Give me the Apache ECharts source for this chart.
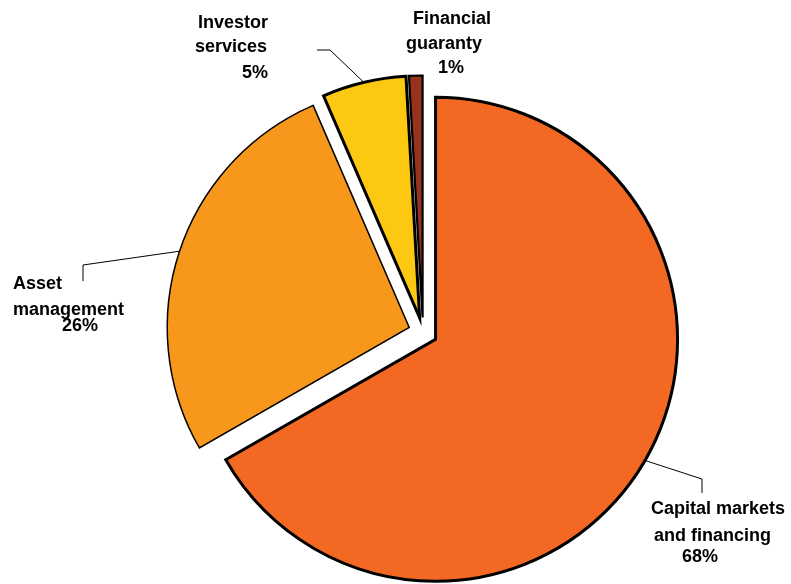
<!DOCTYPE html>
<html><head><meta charset="utf-8">
<script src="https://cdn.jsdelivr.net/npm/echarts@6/dist/echarts.min.js"></script>
<style>html,body{margin:0;padding:0;background:#fff}#c{width:791px;height:584px}</style>
</head><body><div id="c"></div>
<script>
// ---- data ----
const categories = ['Capital markets and financing', 'Asset management', 'Investor services', 'Financial guaranty'];
const shares = [66.7, 26.8, 5.6, 0.9];           // slice sizes as drawn
const percentLabels = ['68%', '26%', '5%', '1%']; // printed percentages
const nameLines = [['Capital markets', 'and financing'], ['Asset', 'management'], ['Investor', 'services'], ['Financial', 'guaranty']];

// ---- style / layout ----
const colors = ['#F36923', '#F7981D', '#FCC812', '#96321E'];
const borderWidths = [3, 1.5, 3, 2.2];
const pieCenter = [423, 332];
const pieRadius = 242;
const explode = 14.5;
const FONT = '"Liberation Sans", Arial, Helvetica, sans-serif';

const labelBoxes = [
  {x: 651, y: 496, align: 'left', pads: [0, 3, 31], lh: [26, 29, 13], line: [[702, 479], [702, 493]]},
  {x: 13, y: 271, align: 'left', pads: [0, 0, 49], lh: [26, 26, 6], line: [[83, 265], [83, 281]]},
  {x: 268, y: 11.5, align: 'right', pads: [0, 1, 0], lh: [24, 24, 28], line: [[330, 50], [317, 50]]},
  {x: 406, y: 6.5, align: 'left', pads: [7, 0, 32], lh: [25, 25, 23], line: null}
];

const total = shares.reduce((a, b) => a + b, 0);
let cum = 0;
const midAngles = shares.map(v => { const m = (cum + v / 2) / total * 2 * Math.PI; cum += v; return m; });

function richFor(i) {
  const b = labelBoxes[i];
  const r = {};
  for (let k = 0; k < 3; k++) {
    const pad = b.align === 'right' ? [0, b.pads[k], 0, 0] : [0, 0, 0, b.pads[k]];
    r['l' + k] = {fontFamily: FONT, fontWeight: 'bold', fontSize: 18, color: '#000', lineHeight: b.lh[k], align: b.align, padding: pad};
  }
  return r;
}

const series = shares.map((_, i) => {
  const a = midAngles[i];
  const center = [pieCenter[0] + explode * Math.sin(a), pieCenter[1] - explode * Math.cos(a)];
  const b = labelBoxes[i];
  return {
    type: 'pie',
    name: categories[i],
    center: center,
    radius: pieRadius,
    startAngle: 90,
    clockwise: true,
    avoidLabelOverlap: false,
    silent: true,
    emphasis: {disabled: true},
    animation: false,
    data: shares.map((v, j) => ({
      name: categories[j],
      value: v,
      itemStyle: j === i
        ? {color: colors[j], borderColor: '#000', borderWidth: borderWidths[j], borderJoin: 'miter'}
        : {color: 'rgba(0,0,0,0)', borderWidth: 0},
      label: {show: j === i},
      labelLine: {show: j === i && !!b.line}
    })),
    label: {
      position: 'outside',
      formatter: () => '{l0|' + nameLines[i][0] + '}\n{l1|' + nameLines[i][1] + '}\n{l2|' + percentLabels[i] + '}',
      rich: richFor(i),
      fontFamily: FONT, fontWeight: 'bold', fontSize: 18, color: '#000'
    },
    labelLine: {lineStyle: {color: '#000', width: 1}, length: 10, length2: 10},
    labelLayout: function (p) {
      if (p.dataIndex !== i) return {};
      const out = {x: b.x, y: b.y, align: b.align, verticalAlign: 'top', hideOverlap: false};
      if (b.line && p.labelLinePoints) out.labelLinePoints = [p.labelLinePoints[0], b.line[0], b.line[1]];
      return out;
    }
  };
});

const chart = echarts.init(document.getElementById('c'), null, {renderer: 'canvas'});
chart.setOption({backgroundColor: '#fff', animation: false, series: series});
</script></body></html>
